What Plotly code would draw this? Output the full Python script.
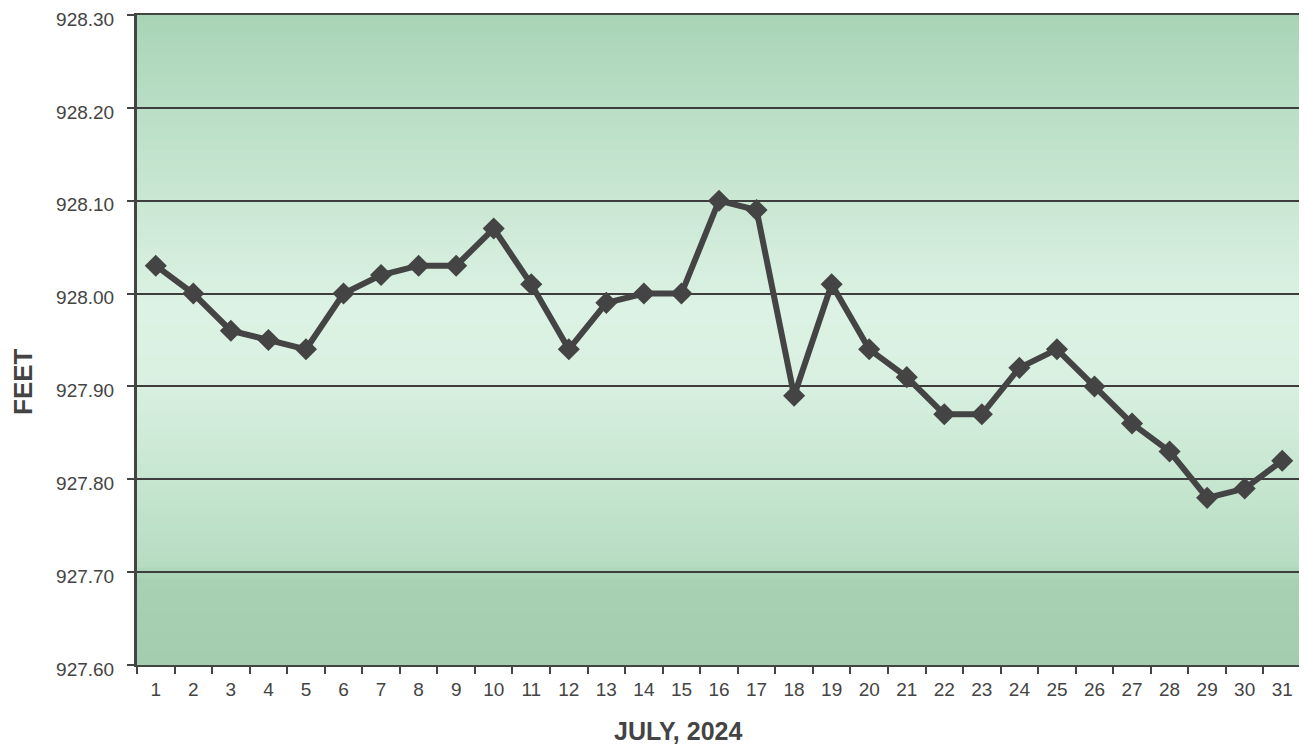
import plotly.graph_objects as go

# ---- data ----
days = [str(d) for d in range(1, 32)]
elevation_ft = [928.03, 928.00, 927.96, 927.95, 927.94, 928.00, 928.02, 928.03, 928.03, 928.07,
                928.01, 927.94, 927.99, 928.00, 928.00, 928.10, 928.09, 927.89, 928.01, 927.94,
                927.91, 927.87, 927.87, 927.92, 927.94, 927.90, 927.86, 927.83, 927.78, 927.79,
                927.82]
y_ticks = [927.60, 927.70, 927.80, 927.90, 928.00, 928.10, 928.20, 928.30]
x_title = "JULY, 2024"
y_title = "FEET"

# ---- style ----
DARK = "#444444"
FONT = "Liberation Sans, Arial, sans-serif"
# background gradient stops (fraction of plot height from bottom, rgb)
grad_stops = [
    (0.00, (164, 205, 176)),
    (0.13, (168, 209, 180)),
    (0.16, (184, 221, 195)),
    (0.30, (200, 231, 210)),
    (0.45, (218, 241, 226)),
    (0.55, (220, 242, 228)),
    (0.70, (204, 232, 213)),
    (0.85, (186, 223, 198)),
    (1.00, (168, 212, 182)),
]


def interp_color(t):
    for (t0, c0), (t1, c1) in zip(grad_stops[:-1], grad_stops[1:]):
        if t0 <= t <= t1:
            f = 0 if t1 == t0 else (t - t0) / (t1 - t0)
            r, g, b = (round(a + (bb - a) * f) for a, bb in zip(c0, c1))
            return f"rgb({r},{g},{b})"
    return "rgb(%d,%d,%d)" % grad_stops[-1][1]


n_bands = 120
shapes = []
for i in range(n_bands):
    y0 = i / n_bands
    y1 = (i + 1) / n_bands
    shapes.append(dict(type="rect", xref="x domain", yref="y domain",
                       x0=0, x1=1, y0=y0, y1=y1 + 0.002, layer="below",
                       line=dict(width=0), fillcolor=interp_color((y0 + y1) / 2)))

# page offset (body margin) compensation
OX, OY = 7, 8
W, H = 1297, 740
L, T = 136 - OX, 15 - OY
R = OX + W - 1300
B = OY + H - 665
PW = W - L - R
PH = H - T - B

fig = go.Figure()
fig.add_trace(go.Scatter(
    x=days, y=elevation_ft, mode="lines+markers",
    line=dict(color=DARK, width=6),
    marker=dict(symbol="diamond", size=17, color=DARK),
    showlegend=False, hoverinfo="x+y",
))

fig.update_layout(
    width=W, height=H,
    margin=dict(l=L, r=R, t=T, b=B),
    paper_bgcolor="white",
    plot_bgcolor="#d0ecd9",
    shapes=shapes,
    font=dict(family=FONT, color=DARK),
    annotations=[
        dict(text=f"<b>{y_title}</b>", xref="paper", yref="paper",
             x=(22 - 136) / PW, y=(665 - 382) / PH, textangle=-90,
             showarrow=False, xanchor="center", yanchor="middle",
             font=dict(family=FONT, size=26, color=DARK)),
        dict(text=f"<b>{x_title}</b>", xref="paper", yref="paper",
             x=(677 - 136) / PW, y=-(731 - 665) / PH,
             showarrow=False, xanchor="center", yanchor="middle",
             font=dict(family=FONT, size=25, color=DARK)),
    ],
)

fig.update_xaxes(
    type="category", range=[-0.5, 30.5], automargin=False,
    tickson="boundaries", ticks="outside", ticklen=7, tickwidth=2, tickcolor=DARK,
    tickfont=dict(family=FONT, size=19, color=DARK), ticklabelstandoff=6,
    showline=True, linecolor=DARK, linewidth=2, mirror=True,
    showgrid=False, zeroline=False,
)
fig.update_yaxes(
    range=[927.60, 928.30], tickvals=y_ticks, tickformat=".2f", automargin=False,
    ticks="outside", ticklen=7, tickwidth=2, tickcolor=DARK,
    tickfont=dict(family=FONT, size=19, color=DARK), ticklabelstandoff=9,
    ticklabeloverflow="allow", ticklabelshift=4,
    showline=True, linecolor=DARK, linewidth=3, mirror=True,
    showgrid=True, gridcolor="#3d3d3d", gridwidth=2, zeroline=False,
)

fig.write_html("out.html")
